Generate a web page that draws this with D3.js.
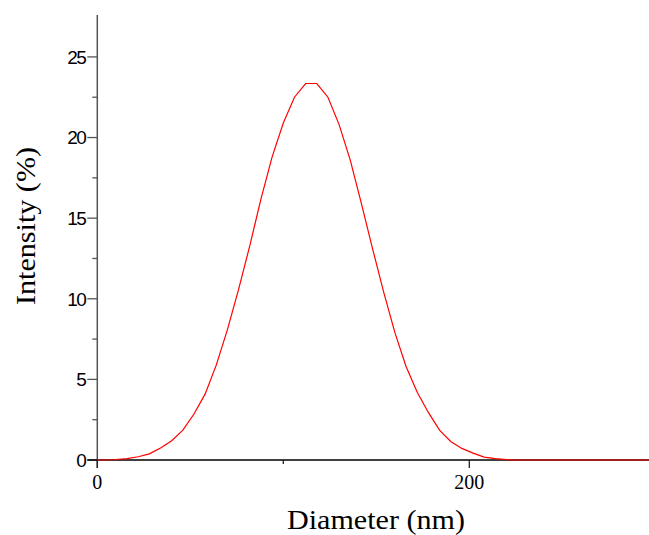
<!DOCTYPE html>
<html>
<head>
<meta charset="utf-8">
<script src="https://cdn.jsdelivr.net/npm/d3@7"></script>
<style>
  body { margin: 0; background: #fff; }
  svg { display: block; }
</style>
</head>
<body>
<div id="chart"></div>
<script>
// size distribution
var diameter = [0, 4, 10, 16, 22, 28, 34, 40, 46, 52, 58, 64, 70, 76, 82, 88, 94, 100, 106, 112,
  118, 124, 130, 136, 142, 148, 154, 160, 166, 172, 178, 184, 190, 196, 202, 208, 214, 220, 226, 260, 300]
var intensity = [0, 0, 0.03, 0.08, 0.2, 0.38, 0.75, 1.2, 1.85, 2.85, 4.1, 5.9, 8.1, 10.6, 13.3, 16.2, 18.8, 20.9, 22.5, 23.35,
  23.35, 22.5, 20.8, 18.6, 15.9, 13.1, 10.4, 7.9, 5.8, 4.2, 2.95, 1.85, 1.15, 0.72, 0.43, 0.18, 0.08, 0.02, 0, 0, 0]
var xTicks = [0, 200]
var xMinor = [100]
var yTicks = [0, 5, 10, 15, 20, 25]
var yMinor = [2.5, 7.5, 12.5, 17.5, 22.5]

var width = 649
var height = 535

var x = d3.scaleLinear()
          .domain([0, 300])
          .range([97.3, 655.3])

var y = d3.scaleLinear()
          .domain([0, 27.6])
          .range([460, 15])

var svg = d3.select('#chart')
  .append('svg')
  .attr('width', width)
  .attr('height', height)

// y axis (grey), runs a bit below the x axis
svg.append('line')
    .attr('x1', x(0)).attr('x2', x(0))
    .attr('y1', y(27.6)).attr('y2', y(0) + 8)
    .attr('stroke', '#555')
    .attr('stroke-width', 1.5)

svg.selectAll('line.ymajor')
    .data(yTicks)
    .enter().append('line')
    .attr('class', 'ymajor')
    .attr('x1', x(0) - 10).attr('x2', x(0))
    .attr('y1', function (d) { return y(d) }).attr('y2', function (d) { return y(d) })
    .attr('stroke', '#555')
    .attr('stroke-width', 1.3)

svg.selectAll('line.yminor')
    .data(yMinor)
    .enter().append('line')
    .attr('class', 'yminor')
    .attr('x1', x(0) - 5).attr('x2', x(0))
    .attr('y1', function (d) { return y(d) }).attr('y2', function (d) { return y(d) })
    .attr('stroke', '#555')
    .attr('stroke-width', 1.3)

svg.selectAll('text.ylab')
    .data(yTicks)
    .enter().append('text')
    .attr('class', 'ylab')
    .attr('x', x(0) - 12)
    .attr('y', function (d) { return y(d) })
    .attr('dy', '0.36em')
    .attr('text-anchor', 'end')
    .attr('font-family', 'Liberation Sans, Arial, sans-serif')
    .attr('font-size', 19)
    .attr('letter-spacing', -1.5)
    .text(function (d) { return d })

// x axis (black)
svg.append('line')
    .attr('x1', x(0) - 10).attr('x2', width)
    .attr('y1', y(0)).attr('y2', y(0))
    .attr('stroke', '#000')
    .attr('stroke-width', 1.5)

svg.selectAll('line.xmajor')
    .data(xTicks)
    .enter().append('line')
    .attr('class', 'xmajor')
    .attr('x1', function (d) { return x(d) }).attr('x2', function (d) { return x(d) })
    .attr('y1', y(0)).attr('y2', y(0) + 8)
    .attr('stroke', '#222')
    .attr('stroke-width', 1.3)

svg.selectAll('line.xminor')
    .data(xMinor)
    .enter().append('line')
    .attr('class', 'xminor')
    .attr('x1', function (d) { return x(d) }).attr('x2', function (d) { return x(d) })
    .attr('y1', y(0)).attr('y2', y(0) + 4)
    .attr('stroke', '#222')
    .attr('stroke-width', 1.3)

svg.selectAll('text.xlab')
    .data(xTicks)
    .enter().append('text')
    .attr('class', 'xlab')
    .attr('x', function (d) { return x(d) })
    .attr('y', y(0) + 29)
    .attr('text-anchor', 'middle')
    .attr('font-family', 'Liberation Serif, Times New Roman, serif')
    .attr('font-size', 20)
    .text(function (d) { return d })

// the curve
var line = d3.line()
    .x(function (d, i) { return x(diameter[i]) })
    .y(function (d) { return y(d) })

svg.append('path')
    .datum(intensity)
    .attr('d', line)
    .attr('fill', 'none')
    .attr('stroke', '#ff0000')
    .attr('stroke-width', 1.2)

// axis titles
svg.append('text')
    .attr('x', 376)
    .attr('y', 529)
    .attr('text-anchor', 'middle')
    .attr('font-family', 'Liberation Serif, Times New Roman, serif')
    .attr('font-size', 27)
    .attr('textLength', 178)
    .attr('lengthAdjust', 'spacingAndGlyphs')
    .text('Diameter (nm)')

svg.append('text')
    .attr('transform', 'translate(35,226) rotate(-90)')
    .attr('text-anchor', 'middle')
    .attr('font-family', 'Liberation Serif, Times New Roman, serif')
    .attr('font-size', 27)
    .attr('textLength', 158)
    .attr('lengthAdjust', 'spacingAndGlyphs')
    .text('Intensity (%)')
</script>
</body>
</html>
